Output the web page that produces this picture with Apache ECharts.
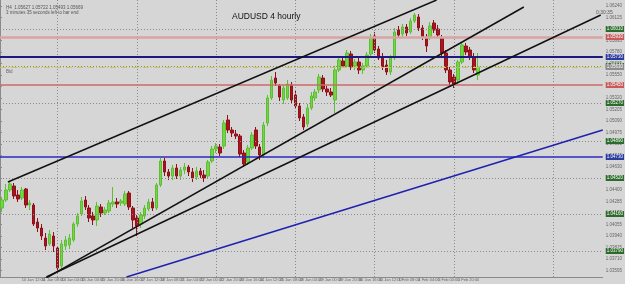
<!DOCTYPE html>
<html><head><meta charset="utf-8">
<script src="https://cdn.jsdelivr.net/npm/echarts@6/dist/echarts.min.js"></script>
<style>html,body{margin:0;padding:0;background:#d6d6d6;}#c{width:625px;height:284px;}</style>
</head><body><div id="c"></div>
<script>
const opens = [1.0422,1.0430,1.0440,1.0444,1.0435,1.0432,1.0441,1.0425,1.0425,1.0408,
1.0402,1.0392,1.0386,1.0394,1.0382,1.0364,1.0384,1.0385,1.0390,1.0406,
1.0416,1.0430,1.0422,1.0414,1.0410,1.0423,1.0417,1.0419,1.0426,1.0428,
1.0427,1.0426,1.0437,1.0422,1.0412,1.0406,1.0414,1.0421,1.0428,1.0422,
1.0445,1.0469,1.0458,1.0454,1.0462,1.0454,1.0460,1.0463,1.0458,1.0453,
1.0459,1.0455,1.0454,1.0469,1.0481,1.0483,1.0484,1.0510,1.0500,1.0496,
1.0494,1.0477,1.0468,1.0482,1.0500,1.0483,1.0475,1.0507,1.0532,1.0552,
1.0544,1.0530,1.0532,1.0545,1.0535,1.0524,1.0513,1.0506,1.0522,1.0532,
1.0540,1.0552,1.0541,1.0538,1.0530,1.0560,1.0569,1.0564,1.0576,1.0564,
1.0568,1.0560,1.0564,1.0576,1.0594,1.0581,1.0573,1.0565,1.0558,1.0572,
1.0600,1.0596,1.0603,1.0598,1.0609,1.0613,1.0602,1.0593,1.0592,1.0607,
1.0601,1.0592,1.0577,1.0560,1.0553,1.0550,1.0568,1.0584,1.0580,1.0573,
1.0555];
const closes = [1.0430,1.0440,1.0446,1.0434,1.0431,1.0440,1.0425,1.0427,1.0406,1.0402,
1.0394,1.0384,1.0396,1.0384,1.0362,1.0386,1.0390,1.0392,1.0406,1.0414,
1.0429,1.0423,1.0412,1.0410,1.0424,1.0417,1.0420,1.0427,1.0428,1.0426,
1.0429,1.0436,1.0423,1.0410,1.0404,1.0415,1.0422,1.0428,1.0422,1.0445,
1.0469,1.0458,1.0454,1.0462,1.0454,1.0460,1.0463,1.0458,1.0452,1.0459,
1.0455,1.0452,1.0468,1.0481,1.0484,1.0477,1.0507,1.0500,1.0497,1.0494,
1.0476,1.0466,1.0482,1.0495,1.0484,1.0475,1.0505,1.0532,1.0550,1.0547,
1.0533,1.0542,1.0546,1.0530,1.0524,1.0512,1.0503,1.0522,1.0534,1.0538,
1.0553,1.0541,1.0538,1.0535,1.0560,1.0570,1.0564,1.0577,1.0563,1.0568,
1.0560,1.0564,1.0575,1.0592,1.0580,1.0572,1.0563,1.0558,1.0572,1.0598,
1.0595,1.0603,1.0597,1.0609,1.0615,1.0602,1.0593,1.0584,1.0604,1.0600,
1.0595,1.0577,1.0560,1.0548,1.0546,1.0568,1.0585,1.0578,1.0573,1.0560,
1.0563];
const lows = [1.0418,1.0428,1.0438,1.0431,1.0428,1.0430,1.0422,1.0420,1.0404,1.0398,
1.0390,1.0380,1.0384,1.0378,1.0360,1.0360,1.0380,1.0381,1.0388,1.0403,
1.0414,1.0420,1.0408,1.0405,1.0404,1.0413,1.0415,1.0417,1.0423,1.0422,
1.0424,1.0424,1.0420,1.0402,1.0394,1.0402,1.0411,1.0419,1.0419,1.0420,
1.0443,1.0454,1.0450,1.0450,1.0451,1.0450,1.0456,1.0454,1.0448,1.0450,
1.0452,1.0448,1.0451,1.0467,1.0477,1.0474,1.0481,1.0497,1.0493,1.0491,
1.0473,1.0463,1.0465,1.0480,1.0481,1.0470,1.0472,1.0504,1.0530,1.0544,
1.0529,1.0526,1.0530,1.0526,1.0522,1.0509,1.0500,1.0503,1.0520,1.0529,
1.0537,1.0538,1.0534,1.0533,1.0517,1.0558,1.0562,1.0562,1.0560,1.0560,
1.0556,1.0556,1.0562,1.0574,1.0577,1.0570,1.0560,1.0555,1.0555,1.0570,
1.0592,1.0593,1.0594,1.0596,1.0607,1.0599,1.0590,1.0578,1.0590,1.0597,
1.0592,1.0574,1.0557,1.0544,1.0542,1.0546,1.0566,1.0575,1.0570,1.0557,
1.0550];
const highs = [1.0433,1.0446,1.0449,1.0447,1.0440,1.0443,1.0442,1.0430,1.0427,1.0412,
1.0406,1.0397,1.0400,1.0398,1.0384,1.0390,1.0394,1.0396,1.0408,1.0417,
1.0433,1.0434,1.0425,1.0418,1.0428,1.0426,1.0423,1.0430,1.0443,1.0432,
1.0431,1.0439,1.0439,1.0424,1.0415,1.0418,1.0425,1.0431,1.0432,1.0447,
1.0472,1.0472,1.0461,1.0465,1.0466,1.0463,1.0467,1.0465,1.0462,1.0463,
1.0462,1.0460,1.0470,1.0484,1.0487,1.0486,1.0510,1.0515,1.0503,1.0500,
1.0496,1.0480,1.0485,1.0498,1.0503,1.0486,1.0508,1.0535,1.0554,1.0558,
1.0546,1.0545,1.0550,1.0548,1.0540,1.0527,1.0516,1.0526,1.0538,1.0541,
1.0556,1.0555,1.0544,1.0542,1.0564,1.0574,1.0573,1.0580,1.0579,1.0571,
1.0572,1.0567,1.0578,1.0596,1.0598,1.0584,1.0577,1.0570,1.0575,1.0602,
1.0604,1.0606,1.0606,1.0612,1.0617,1.0616,1.0605,1.0596,1.0608,1.0610,
1.0605,1.0595,1.0580,1.0563,1.0556,1.0570,1.0588,1.0587,1.0583,1.0577,
1.0577];

// date tick labels, one every 5 bars
const dateTicks = ['9 Jan 16:00','10 Jan 12:00','11 Jan 08:00','14 Jan 04:00','15 Jan 00:00','15 Jan 20:00',
'16 Jan 16:00','17 Jan 12:00','18 Jan 08:00','21 Jan 04:00','22 Jan 00:00','22 Jan 20:00','23 Jan 16:00',
'24 Jan 12:00','25 Jan 08:00','28 Jan 04:00','29 Jan 00:00','29 Jan 20:00','30 Jan 16:00','31 Jan 12:00',
'1 Feb 08:00','4 Feb 04:00','5 Feb 00:00','5 Feb 20:00','6 Feb 16:00'];
const totalSlots = 152;

// price scale tick labels (right axis)
const priceTicks = [1.06240,1.06125,1.05895,1.05780,1.05665,1.05550,1.05435,1.05320,1.05205,1.05090,
1.04975,1.04860,1.04745,1.04630,1.04515,1.04400,1.04285,1.04170,1.04055,1.03940,1.03825,1.03710,1.03595];
const priceMin = 1.0353, priceMax = 1.0630;

// dotted grid levels (green boxes) and vertical grid bars
const gridLevels = [1.0601, 1.0564, 1.0527, 1.0489, 1.0452, 1.0416, 1.0379];
const gridBars = [14, 34, 54, 74, 94, 114, 139];

// horizontal levels
const levelPrices = [1.0593, 1.0573, 1.0563, 1.0545, 1.0473];
const levelNames  = ['res1', 'blue1', 'bid', 'res2', 'blue2'];

// trend lines: [barPos, price] endpoints
const trendUpper = [[2.0, 1.0448], [110.1, 1.0630]];
const trendMid   = [[11.2, 1.0351], [132.1, 1.0623]];
const trendLow   = [[11.7, 1.0353], [151.5, 1.0615]];
const trendBlue  = [[31.9, 1.0353], [152.0, 1.0500]];

const cats = [];
for (let i = 0; i < totalSlots; i++) cats.push(String(i));
const candleData = opens.map((o, i) => [o, closes[i], lows[i], highs[i]]);

const levelStyles = {
  res1:  {color:'#d9a3a3', width:2.5, type:'solid', box:'#c85a5a'},
  blue1: {color:'#1a1a80', width:2, type:'solid', box:'#2a3c9c'},
  bid:   {color:'#c9c94a', width:1, type:[6,2,1,2], box:'#8c8c8c'},
  res2:  {color:'#cc6a6a', width:1.5, type:'solid', box:'#c85a5a'},
  blue2: {color:'#2a2ac4', width:1.5, type:'solid', box:'#2a3c9c'}
};

const lblBase = {show:true, position:'end', distance:3, fontSize:4.5, color:'#fff', padding:[1,1,0,1],
  fontFamily:'Liberation Sans', formatter: p => Number(p.value).toFixed(5)};

const gridMarks = gridLevels.map(v => ({yAxis:v, lineStyle:{color:'#8a8a8a', type:[1,2], width:1},
  label:Object.assign({}, lblBase, {backgroundColor:'#2d6b2d'})}));
const vMarks = gridBars.map(b => ({xAxis:b, lineStyle:{color:'#8a8a8a', type:[1,2], width:1}, label:{show:false}}));
const levelMarks = levelPrices.map((v, i) => {
  const s = levelStyles[levelNames[i]];
  return {yAxis:v, lineStyle:{color:s.color, width:s.width, type:s.type},
    label:Object.assign({}, lblBase, {backgroundColor:s.box})};
});

function trend(data, color) {
  return {type:'line', xAxisIndex:1, yAxisIndex:0, data:data, symbol:'none', silent:true,
    lineStyle:{color:color, width:1.5}, z:5, clip:true};
}

const chart = echarts.init(document.getElementById('c'), null, {renderer:'canvas'});
chart.setOption({
  animation:false,
  backgroundColor:'#d6d6d6',
  textStyle:{fontFamily:'Liberation Sans'},
  title:[
    {text:'AUDUSD 4 hourly', left:227, top:7, textStyle:{fontSize:8.5, fontWeight:'normal', color:'#111', fontFamily:'Liberation Sans'}},
    {text:'H4  1.05627 1.05722 1.05493 1.05669', left:1, top:0, textStyle:{fontSize:4.5, fontWeight:'normal', color:'#555'}},
    {text:'3 minutes 35 seconds left to bar end', left:1, top:5, textStyle:{fontSize:4.5, fontWeight:'normal', color:'#555'}},
    {text:'Bid', left:1, top:64, textStyle:{fontSize:4.5, fontWeight:'normal', color:'#666'}},
    {text:'0:30:35', left:591, top:5, textStyle:{fontSize:5, fontWeight:'normal', color:'#555'}}
  ],
  grid:{left:0, right:15, top:0, bottom:7, containLabel:false},
  xAxis:[
    {type:'category', data:cats, boundaryGap:true,
     axisLine:{show:true, lineStyle:{color:'#8a8a8a'}}, axisTick:{show:false}, splitLine:{show:false},
     axisLabel:{interval:(idx) => idx % 5 === 0 && idx / 5 < dateTicks.length, formatter:(v, idx) => dateTicks[idx / 5] || '',
       fontSize:4, color:'#666', align:'left', margin:1}},
    {type:'value', min:0, max:totalSlots, show:false}
  ],
  yAxis:[{type:'value', position:'right', min:priceMin, max:priceMax, scale:true,
    splitLine:{show:false}, axisLine:{show:true, lineStyle:{color:'#8a8a8a'}},
    axisTick:{show:true, length:2, customValues:priceTicks, lineStyle:{color:'#8a8a8a'}},
    axisLabel:{show:true, customValues:priceTicks, fontSize:4.5, color:'#666', margin:3,
      formatter:v => v.toFixed(5)}}],
  series:[
    {type:'line', data:[], silent:true, z:1,
     markLine:{silent:true, symbol:'none', precision:5, animation:false, data:gridMarks.concat(vMarks)}},
    {type:'line', data:[], silent:true, z:2,
     markLine:{silent:true, symbol:'none', precision:5, animation:false, data:levelMarks}},
    {type:'candlestick', data:candleData, barWidth:3, z:3,
     itemStyle:{color:'#74d645', color0:'#a81420', borderColor:'#5cbf33', borderColor0:'#8e1018', borderWidth:1}},
    trend(trendUpper, '#111'),
    trend(trendMid, '#111'),
    trend(trendLow, '#111'),
    trend(trendBlue, '#2020b0')
  ]
});
</script></body></html>
